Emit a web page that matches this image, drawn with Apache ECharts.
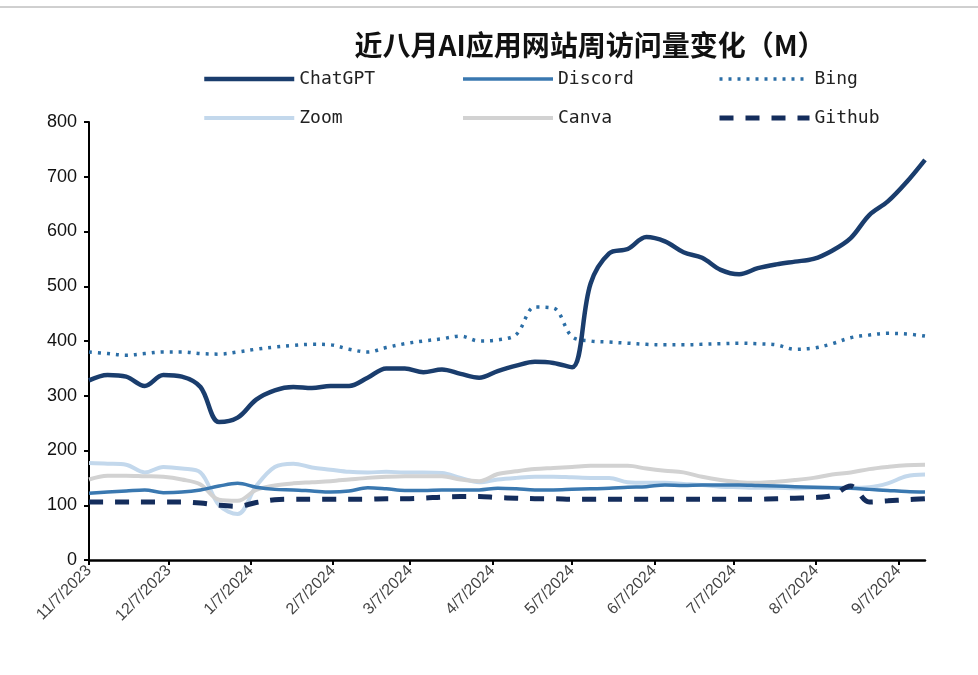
<!DOCTYPE html>
<html>
<head>
<meta charset="utf-8">
<script src="https://cdn.jsdelivr.net/npm/echarts@6/dist/echarts.min.js"></script>
<style>
  html, body { margin: 0; padding: 0; background: #fff; }
  #chart { width: 978px; height: 675px; }
</style>
</head>
<body>
<div id="chart"></div>
<script>
// weekly points, first week 11/7/2023
const startDate = '2023-11-07'
const endDate = '2024-09-17'

const chatgpt = [328, 338, 335, 318, 338, 335, 316, 252, 260, 293, 310, 316, 314, 318, 318, 333,
  350, 350, 343, 348, 340, 333, 345, 355, 362, 360, 352, 505, 560, 568, 590, 582,
  562, 552, 530, 522, 533, 540, 545, 550, 565, 588, 630, 655, 690, 731]
const discord = [122, 124, 126, 128, 123, 124, 128, 135, 140, 133, 129, 128, 126, 124, 126, 132,
  130, 127, 127, 128, 128, 128, 131, 130, 128, 128, 129, 130, 131, 133, 134, 137,
  136, 137, 137, 137, 136, 135, 134, 133, 132, 131, 129, 127, 125, 124]
const bing = [380, 377, 374, 377, 380, 380, 377, 376, 380, 385, 389, 392, 394, 393, 385, 380,
  388, 395, 400, 404, 409, 400, 402, 412, 462, 460, 408, 400, 398, 396, 394, 393,
  393, 394, 395, 396, 395, 393, 385, 387, 395, 406, 411, 414, 413, 409]
const zoom = [177, 176, 174, 160, 170, 167, 160, 100, 84, 135, 170, 176, 169, 165, 161, 160,
  161, 160, 160, 159, 150, 142, 147, 150, 152, 152, 151, 150, 150, 142, 141, 141,
  139, 137, 134, 133, 132, 132, 131, 132, 132, 132, 133, 140, 153, 156]
const canva = [147, 154, 154, 153, 152, 147, 138, 110, 108, 128, 136, 140, 142, 144, 147, 150,
  152, 153, 153, 153, 147, 144, 157, 162, 166, 168, 170, 172, 172, 172, 167, 163,
  160, 152, 146, 142, 141, 143, 146, 150, 156, 160, 166, 170, 173, 174]
const github = [106, 106, 106, 106, 106, 106, 104, 100, 98, 105, 110, 111, 111, 111, 111, 111,
  112, 112, 113, 115, 116, 116, 114, 113, 112, 112, 111, 111, 111, 111, 111, 111,
  111, 111, 111, 111, 111, 112, 113, 114, 118, 135, 106, 108, 110, 112]

const yTicks = [0, 100, 200, 300, 400, 500, 600, 700, 800]

function fmt(d) {
  return (d.getUTCMonth() + 1) + '/' + d.getUTCDate() + '/' + d.getUTCFullYear()
}

// every day on the axis, so monthly ticks can sit on the 7th
const days = []
for (let d = new Date(startDate + 'T00:00:00Z'); d <= new Date(endDate + 'T00:00:00Z'); d.setUTCDate(d.getUTCDate() + 1)) {
  days.push(fmt(d))
}
const weeks = days.filter((v, i) => i % 7 === 0)

function pairs(arr) {
  return arr.map((v, i) => [weeks[i], v])
}

const styles = {
  ChatGPT: { color: '#1a3d6d', width: 4.5 },
  Discord: { color: '#3a78b0', width: 3.5 },
  Bing: { color: '#2b6ea6', width: 3.5, type: [3, 6] },
  Zoom: { color: '#c3d8ec', width: 4 },
  Canva: { color: '#d2d2d2', width: 4 },
  Github: { color: '#142d5c', width: 5, type: [14, 12] },
}

const chart = echarts.init(document.getElementById('chart'))
const isSeventh = (i, v) => v.split('/')[1] === '7'
const legendText = { fontFamily: 'DejaVu Sans Mono', fontSize: 18, color: '#222' }
const legendItem = name => ({ name: name, itemStyle: { opacity: 0 }, lineStyle: styles[name] })

const option = {
  backgroundColor: '#fff',
  animation: false,
  title: {
    text: '近八月AI应用网站周访问量变化（M）',
    left: 585,
    textAlign: 'center',
    top: 26,
    textStyle: { fontFamily: 'Noto Sans CJK SC', fontWeight: 'bold', fontSize: 28, color: '#111' },
  },
  legend: [
    { data: ['ChatGPT', 'Zoom'], left: 197 },
    { data: ['Discord', 'Canva'], left: 456 },
    { data: ['Bing', 'Github'], left: 712 },
  ].map(l => ({
    orient: 'vertical', top: 65, left: l.left, itemWidth: 90, itemHeight: 16, itemGap: 21,
    textStyle: legendText, data: l.data.map(legendItem),
  })),
  graphic: [{
    type: 'line',
    shape: { x1: 0, y1: 7, x2: 978, y2: 7 },
    style: { stroke: '#a0a0a0', lineWidth: 1 },
  }],
  grid: { left: 89, right: 53, top: 122, bottom: 115 },
  xAxis: {
    type: 'category',
    data: days,
    boundaryGap: false,
    axisLine: { lineStyle: { color: '#000', width: 2.5 } },
    axisTick: { interval: isSeventh, length: 5, lineStyle: { color: '#000', width: 2 } },
    axisLabel: {
      interval: isSeventh,
      rotate: 45,
      fontFamily: 'Liberation Sans',
      fontSize: 16,
      color: '#444',
      margin: 8,
    },
    splitLine: { show: false },
  },
  yAxis: {
    type: 'value',
    min: yTicks[0],
    max: yTicks[yTicks.length - 1],
    interval: 100,
    axisLine: { show: true, lineStyle: { color: '#000', width: 2 } },
    axisTick: { show: true, length: 5, lineStyle: { color: '#000', width: 2 } },
    axisLabel: { fontFamily: 'Liberation Sans', fontSize: 18, color: '#111', margin: 12 },
    splitLine: { show: false },
  },
  series: [
    { name: 'Zoom', data: pairs(zoom) },
    { name: 'Canva', data: pairs(canva) },
    { name: 'Discord', data: pairs(discord) },
    { name: 'Github', data: pairs(github) },
    { name: 'Bing', data: pairs(bing) },
    { name: 'ChatGPT', data: pairs(chatgpt) },
  ].map(s => Object.assign({
    type: 'line', smooth: 0.35, symbol: 'none',
    lineStyle: styles[s.name], itemStyle: { color: styles[s.name].color },
  }, s)),
}

chart.setOption(option)
</script>
</body>
</html>
